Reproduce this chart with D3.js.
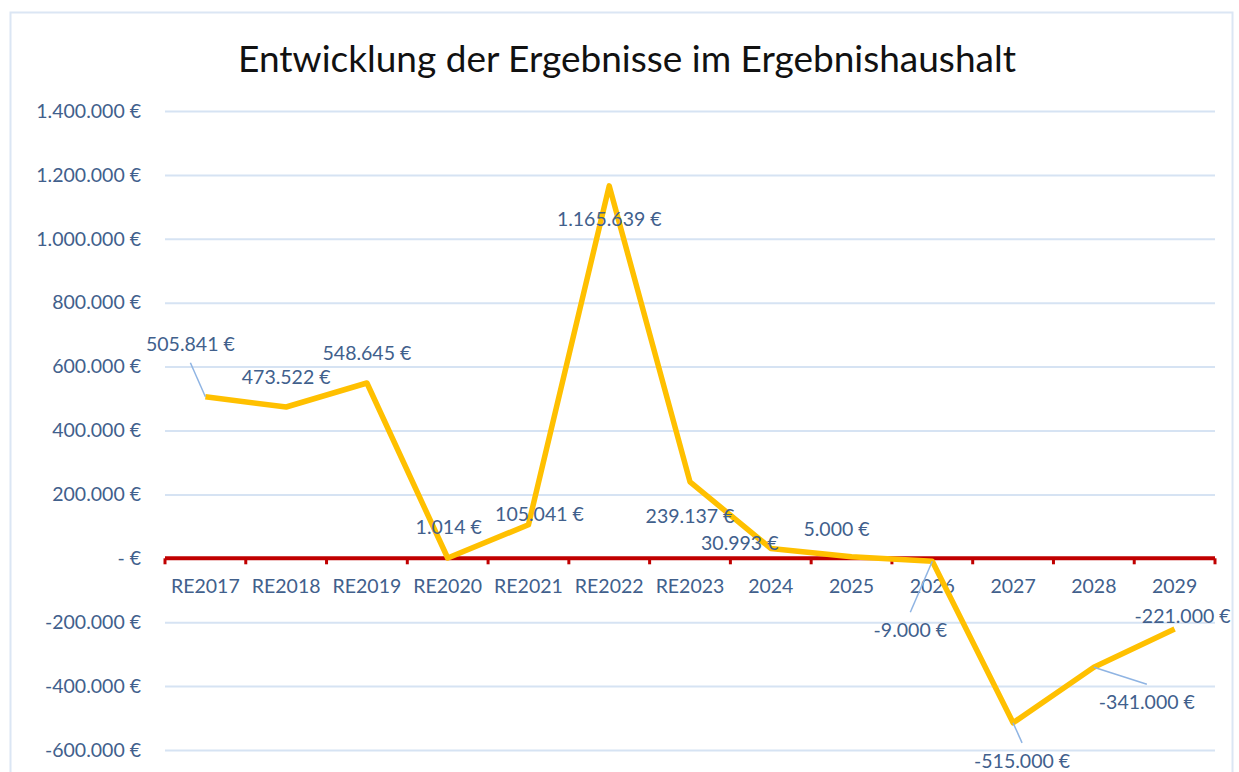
<!DOCTYPE html>
<html>
<head>
<meta charset="utf-8">
<script src="https://cdn.jsdelivr.net/npm/d3@7"></script>
<style>
  body { margin: 0; background: #fff; }
  text { font-family: Lato, "Open Sans", sans-serif; }
</style>
</head>
<body>
<div id="chart"></div>
<script>
// Werte aus der Grafik
var categories = ['RE2017', 'RE2018', 'RE2019', 'RE2020', 'RE2021', 'RE2022', 'RE2023',
  '2024', '2025', '2026', '2027', '2028', '2029'];
var values = [505841, 473522, 548645, 1014, 105041, 1165639, 239137,
  30993, 5000, -9000, -515000, -341000, -221000];
var yTicks = [-600000, -400000, -200000, 0, 200000, 400000, 600000, 800000, 1000000, 1200000, 1400000];
// Layout der Beschriftungen: Versatz (dx, dy) zum Punkt, true = mit Führungslinie
var labelOffsets = [[-15, -53, true], [0, -30], [0, -30], [1, -31], [11, -11], [0, 33], [0, 34],
  [-31, -5], [-15, -28], [-22, 69, true], [9, 38, true], [53, 35, true], [8, -13]];

var W = 1239, H = 772;
var margin = { top: 111, right: 24, bottom: 22, left: 165 };
var fs = 19.5;

var svg = d3.select('#chart').append('svg')
  .attr('width', W)
  .attr('height', H);

// Rahmen
svg.append('rect')
  .attr('x', 10.5).attr('y', 12.5)
  .attr('width', 1222).attr('height', 800)
  .attr('fill', 'none')
  .attr('stroke', '#dbe6f4')
  .attr('stroke-width', 2);

// Titel
svg.append('text')
  .attr('x', 627).attr('y', 72)
  .attr('text-anchor', 'middle')
  .attr('font-size', 37)
  .attr('fill', '#111')
  .text('Entwicklung der Ergebnisse im Ergebnishaushalt');

var x = d3.scaleBand()
  .domain(categories)
  .range([margin.left, W - margin.right]);

var y = d3.scaleLinear()
  .domain([-600000, 1400000])
  .range([H - margin.bottom, margin.top]);

var fmt = d3.formatLocale({ decimal: ',', thousands: '.', grouping: [3], currency: ['', ' €'], minus: '-' });
var num = fmt.format(',.0f');
var axisFmt = function(d) { return d === 0 ? '- €' : num(d) + ' €'; };

// Gitterlinien + Y-Achse
var yAxis = svg.append('g')
  .attr('transform', 'translate(' + margin.left + ',0)')
  .call(d3.axisLeft(y).tickValues(yTicks).tickSize(-(W - margin.left - margin.right)).tickPadding(24).tickFormat(axisFmt));
yAxis.select('.domain').remove();
yAxis.selectAll('.tick line').attr('stroke', '#d6e3f3').attr('stroke-width', 2);
yAxis.selectAll('.tick text')
  .attr('font-size', fs)
  .attr('fill', '#41608c');

// Kategorien unter der Nulllinie
var xAxis = svg.append('g')
  .attr('transform', 'translate(0,' + y(0) + ')')
  .call(d3.axisBottom(x).tickSize(0).tickPadding(21));
xAxis.select('.domain').remove();
xAxis.selectAll('.tick text')
  .attr('font-size', fs)
  .attr('fill', '#41608c');

// Teilstriche an den Kategoriegrenzen
svg.append('g').selectAll('line')
  .data(categories.concat(['end']))
  .enter().append('line')
  .attr('x1', function(d, i) { return i < categories.length ? x(d) : x.range()[1]; })
  .attr('x2', function(d, i) { return i < categories.length ? x(d) : x.range()[1]; })
  .attr('y1', y(0))
  .attr('y2', y(0) + 6)
  .attr('stroke', '#c00000')
  .attr('stroke-width', 3);

svg.append('line')
  .attr('x1', x.range()[0]).attr('x2', x.range()[1])
  .attr('y1', y(0)).attr('y2', y(0))
  .attr('stroke', '#c00000')
  .attr('stroke-width', 4);

var cx = function(i) { return x(categories[i]) + x.bandwidth() / 2; };

// Linie
var line = d3.line()
  .x(function(d, i) { return cx(i); })
  .y(function(d) { return y(d); });

svg.append('path')
  .datum(values)
  .attr('d', line)
  .attr('fill', 'none')
  .attr('stroke', '#ffc000')
  .attr('stroke-width', 5.5)
  .attr('stroke-linejoin', 'round');

// Führungslinien
svg.append('g').selectAll('line')
  .data(values.map(function(v, i) { return i; }).filter(function(i) { return labelOffsets[i][2]; }))
  .enter().append('line')
  .attr('x1', function(i) { return cx(i); })
  .attr('y1', function(i) { return y(values[i]); })
  .attr('x2', function(i) { return cx(i) + labelOffsets[i][0]; })
  .attr('y2', function(i) { var dy = labelOffsets[i][1]; return y(values[i]) + dy + (dy < 0 ? 19 : -18); })
  .attr('stroke', '#8fb4e3')
  .attr('stroke-width', 1.5);

// Datenbeschriftungen
svg.append('g').selectAll('text')
  .data(values)
  .enter().append('text')
  .attr('x', function(d, i) { return cx(i) + labelOffsets[i][0]; })
  .attr('y', function(d, i) { return y(d) + labelOffsets[i][1]; })
  .attr('dy', '0.35em')
  .attr('text-anchor', 'middle')
  .attr('font-size', fs)
  .attr('fill', '#41608c')
  .text(function(d) { return num(d) + ' €'; });
</script>
</body>
</html>
